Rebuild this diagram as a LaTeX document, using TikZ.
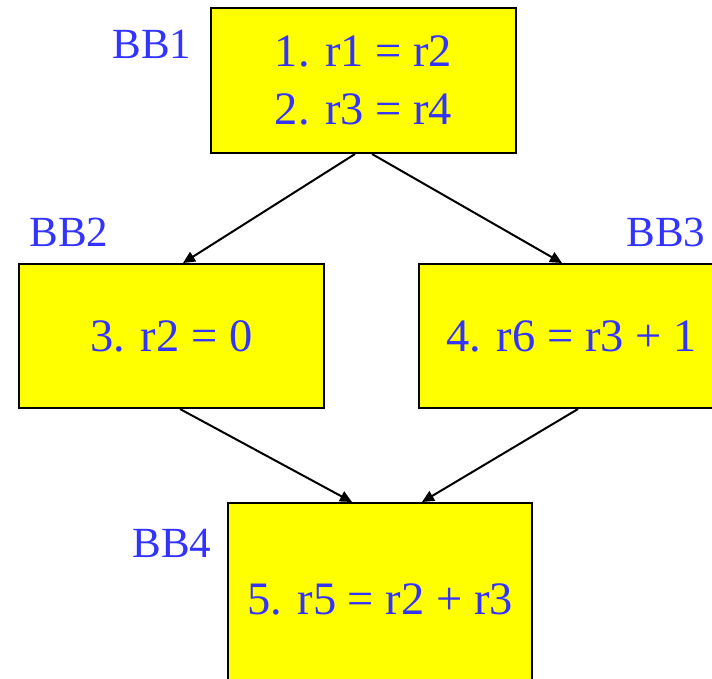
\documentclass[tikz,border=0pt]{standalone}
\usepackage{fontspec}
\setmainfont{Liberation Serif}
\usetikzlibrary{calc,arrows.meta}
\definecolor{codeblue}{RGB}{51,51,255}
\definecolor{bbyellow}{RGB}{255,255,0}
\tikzset{
  block/.style={draw=black, line width=2pt, fill=bbyellow, inner sep=0pt,
    text=codeblue, font=\fontsize{46.5}{58}\selectfont, align=center},
  bblabel/.style={text=codeblue, font=\fontsize{43}{50}\selectfont, inner sep=0pt, anchor=base},
  flow/.style={line width=2pt, -{Triangle[length=12pt,width=11pt]}}
}
\begin{document}
\begin{tikzpicture}[x=1pt,y=-1pt]
  \useasboundingbox (0,0) rectangle (712,678);
  \clip (0,0) rectangle (712,678);
  % basic blocks
  \node[block, minimum width=305pt, minimum height=145pt] (bb1) at (363.5,80.5) {1. r1 = r2\\2. r3 = r4};
  \node[block, minimum width=305pt, minimum height=144pt] (bb2) at (171.5,336) {3. r2 = 0};
  \node[block, minimum width=305pt, minimum height=144pt] (bb3) at (571.5,336) {4. r6 = r3 + 1};
  \node[block, minimum width=304pt, minimum height=192pt] (bb4) at (380,599) {5. r5 = r2 + r3};
  % block names
  \node[bblabel] (l1) at (152,58) {BB1};
  \node[bblabel] (l2) at (69,246) {BB2};
  \node[bblabel] (l3) at (666,246) {BB3};
  \node[bblabel] (l4) at (172,557) {BB4};
  % control flow edges
  \draw[flow] ($(bb1.south)+(-8.5,0)$) -- ($(bb2.north)+(11.5,0)$);
  \draw[flow] ($(bb1.south)+(8.5,0)$) -- ($(bb3.north)+(-9.5,0)$);
  \draw[flow] ($(bb2.south)+(8.5,0)$) -- ($(bb4.north)+(-28,0)$);
  \draw[flow] ($(bb3.south)+(6.5,0)$) -- ($(bb4.north)+(42,0)$);
\end{tikzpicture}
\end{document}
